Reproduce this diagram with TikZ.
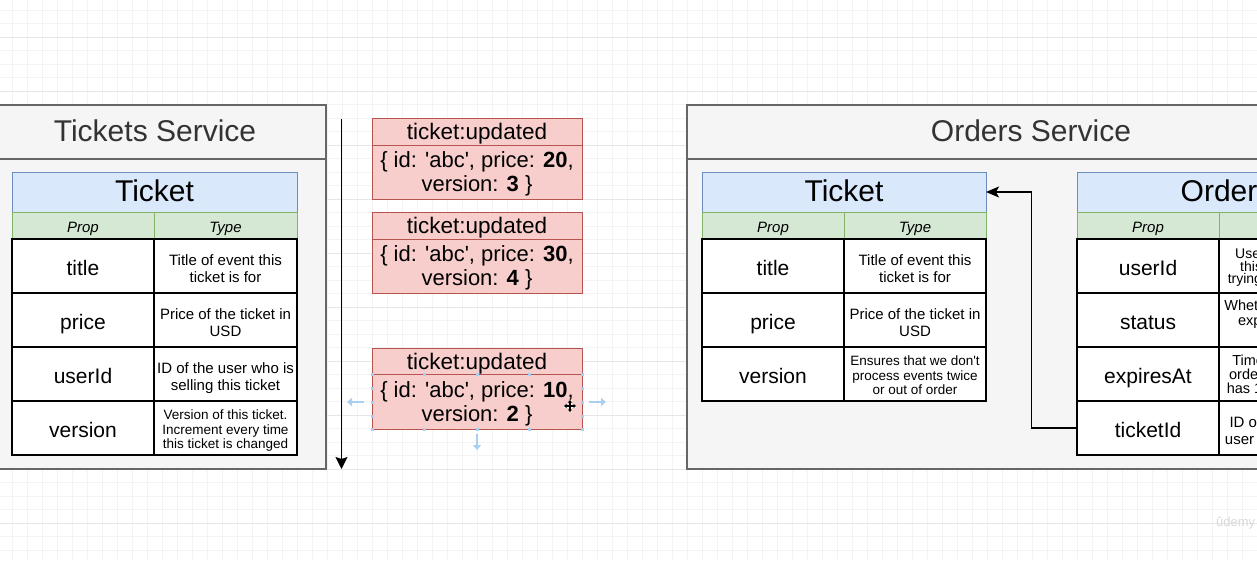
\documentclass[tikz,border=0pt]{standalone}
\usepackage{fontspec}
\setmainfont{Liberation Sans}
\usetikzlibrary{arrows.meta}
\definecolor{svcfill}{HTML}{F5F5F5}
\definecolor{svcline}{HTML}{666666}
\definecolor{hdrfill}{HTML}{DAE8FC}
\definecolor{hdrline}{HTML}{6C8EBF}
\definecolor{colfill}{HTML}{D5E8D4}
\definecolor{colline}{HTML}{82B366}
\definecolor{evfill}{HTML}{F8CECC}
\definecolor{evline}{HTML}{B85450}
\definecolor{titlecol}{HTML}{333333}
\definecolor{gridmin}{HTML}{F3F3F3}
\definecolor{gridmaj}{HTML}{E6E6E6}
\definecolor{selblue}{HTML}{A9CFF2}
\newcommand\fsz[2]{\fontsize{#1}{#2}\selectfont}
\newcommand\sq{\textquotesingle}
% multi-line text with a top strut (#1) and a bottom strut (#2)
\newcommand\tx[3]{\rule{0pt}{#1}#3\rule[-#2]{0pt}{#2}}
\newcommand\tyt[1]{\tx{19.5pt}{3.3pt}{#1}}
\newcommand\tys[1]{\tx{15pt}{3pt}{#1}}
\newcommand\evt[1]{\tx{20.3pt}{4.8pt}{#1}}
\tikzset{
  base/.style={inner sep=0pt, outer sep=0pt, anchor=north west, align=center},
  svcbox/.style={base, draw=svcline, fill=svcfill, line width=1.2pt},
  svctitle/.style={inner sep=0pt, text=titlecol, font=\fsz{30}{33}, text height=19.5pt, text depth=0pt},
  hdr/.style={base, draw=hdrline, fill=hdrfill, line width=1pt, minimum height=40, font=\fsz{30}{33}, text height=19.5pt, text depth=0pt},
  colh/.style={base, draw=colline, fill=colfill, line width=1pt, minimum height=27, font=\fsz{15}{17}\itshape, text height=14.4pt, text depth=0pt},
  cell/.style={base, draw=black, fill=white, line width=1.4pt, minimum height=54},
  propc/.style={cell, font=\fsz{21}{24}, text height=18.5pt, text depth=0pt},
  typec/.style={cell, font=\fsz{15}{17}},
  types/.style={cell, font=\fsz{13.5}{14.2}},
  evh/.style={base, draw=evline, fill=evfill, line width=1pt, minimum width=210, minimum height=27, font=\fsz{22.5}{24}, text height=15.5pt, text depth=0pt},
  evb/.style={base, draw=evline, fill=evfill, line width=1pt, minimum width=210, minimum height=54, font=\fsz{22}{24}},
  conn/.style={line width=1.5pt, -{Stealth[length=13pt,width=11pt,inset=3pt]}},
  handle/.style={fill=selblue, minimum size=3pt, inner sep=0pt},
  harrow/.style={selblue, line width=2pt, -{Triangle[length=5pt,width=8pt]}},
}
\begin{document}
\begin{tikzpicture}[x=1pt,y=-1pt]
\useasboundingbox (0,0) rectangle (1257,560);
\clip (0,0) rectangle (1257,560);
\fill[white] (0,0) rectangle (1257,560);
% background grid
\foreach \gx in {12.7,27.7,...,1257} \draw[gridmin, line width=0.8pt] (\gx,0) -- (\gx,560);
\foreach \gy in {-3.5,10,...,560} \draw[gridmin, line width=0.8pt] (0,\gy) -- (1257,\gy);
\foreach \gy in {37,91,...,560} \draw[gridmaj, line width=1pt] (0,\gy) -- (1257,\gy);

% ---------- Tickets Service ----------
\node[svcbox, minimum width=342, minimum height=364] (tsvc) at (-16,105) {};
\draw[svcline, line width=1.2pt] (-16,159) -- (326,159);
\node[svctitle] (tsvct) at (155,132) {Tickets Service};

\node[hdr, minimum width=285] (tH) at (12,172) {Ticket};
\node[colh, minimum width=142] (tCP) at (12,212) {Prop};
\node[colh, minimum width=143] (tCT) at (154,212) {Type};
\node[propc, minimum width=142] (tP1) at (12,239) {title};
\node[typec, minimum width=143] (tT1) at (154,239) {\tyt{Title of event this\\ticket is for}};
\node[propc, minimum width=142] (tP2) at (12,293) {price};
\node[typec, minimum width=143] (tT2) at (154,293) {\tyt{Price of the ticket in\\USD}};
\node[propc, minimum width=142] (tP3) at (12,347) {userId};
\node[typec, minimum width=143] (tT3) at (154,347) {\tyt{ID of the user who is\\selling this ticket}};
\node[propc, minimum width=142] (tP4) at (12,401) {version};
\node[types, minimum width=143] (tT4) at (154,401) {\tys{Version of this ticket.\\Increment every time\\this ticket is changed}};

% ---------- timeline ----------
\coordinate (tl0) at (341.5,119);
\coordinate (tl1) at (341.5,469);
\draw[line width=1.6pt, -{Stealth[length=12pt,width=12pt,inset=2pt]}] (tl0) -- (tl1);

% ---------- events ----------
\node[evh] (e1h) at (372,118) {ticket:updated};
\node[evb] (e1b) at (372,145) {\evt{\{ id: \sq abc\sq, price: \textbf{20},\\version: \textbf{3} \}}};
\node[evh] (e2h) at (372,212) {ticket:updated};
\node[evb] (e2b) at (372,239) {\evt{\{ id: \sq abc\sq, price: \textbf{30},\\version: \textbf{4} \}}};
\node[evh] (e3h) at (372,348) {ticket:updated};
\node[evb, minimum height=55] (e3b) at (372,374) {\evt{\{ id: \sq abc\sq, price: \textbf{10},\\version: \textbf{2} \}}};

% selection handles on the third event
\foreach \hx in {372,424.5,477,529.5,582} {
  \node[handle] at (\hx,374) {};
  \node[handle] at (\hx,429) {};
}
\foreach \hy in {388,402,416} {
  \node[handle] at (372,\hy) {};
  \node[handle] at (582,\hy) {};
}
\coordinate (hl0) at (364,402); \coordinate (hl1) at (347,402);
\coordinate (hr0) at (589,402); \coordinate (hr1) at (606,402);
\coordinate (hd0) at (477,434); \coordinate (hd1) at (477,450);
\draw[harrow] (hl0) -- (hl1);
\draw[harrow] (hr0) -- (hr1);
\draw[harrow] (hd0) -- (hd1);
% move cursor
\coordinate (cur) at (570,406);
\draw[white, line width=3pt] ([xshift=-6pt]cur) -- ([xshift=6pt]cur) ([yshift=-6pt]cur) -- ([yshift=6pt]cur);
\draw[black, line width=1.1pt, {Triangle[length=2.5pt,width=4pt]}-{Triangle[length=2.5pt,width=4pt]}] ([xshift=-6pt]cur) -- ([xshift=6pt]cur);
\draw[black, line width=1.1pt, {Triangle[length=2.5pt,width=4pt]}-{Triangle[length=2.5pt,width=4pt]}] ([yshift=-6pt]cur) -- ([yshift=6pt]cur);

% ---------- Orders Service ----------
\node[svcbox, minimum width=688, minimum height=364] (osvc) at (687,105) {};
\draw[svcline, line width=1.2pt] (687,159) -- (1375,159);
\node[svctitle] (osvct) at (1031,132) {Orders Service};

\node[hdr, minimum width=284] (oH) at (702,172) {Ticket};
\node[colh, minimum width=142] (oCP) at (702,212) {Prop};
\node[colh, minimum width=142] (oCT) at (844,212) {Type};
\node[propc, minimum width=142] (oP1) at (702,239) {title};
\node[typec, minimum width=142] (oT1) at (844,239) {\tyt{Title of event this\\ticket is for}};
\node[propc, minimum width=142] (oP2) at (702,293) {price};
\node[typec, minimum width=142] (oT2) at (844,293) {\tyt{Price of the ticket in\\USD}};
\node[propc, minimum width=142] (oP3) at (702,347) {version};
\node[types, minimum width=142] (oT3) at (844,347) {\tys{Ensures that we don\sq t\\process events twice\\or out of order}};

\node[hdr, minimum width=284] (rH) at (1077,172) {Order};
\node[colh, minimum width=142] (rCP) at (1077,212) {Prop};
\node[colh, minimum width=142] (rCT) at (1219,212) {Type};
\node[propc, minimum width=142] (rP1) at (1077,239) {userId};
\node[cell, font=\fsz{14}{12.5}, minimum width=142] (rT1) at (1219,239) {\tx{13.5pt}{3pt}{User who created\\this order and is\\trying to buy a ticket}};
\node[propc, minimum width=142] (rP2) at (1077,293) {status};
\node[cell, font=\fsz{14.5}{15}, minimum width=142] (rT2) at (1219,293) {\tx{14.5pt}{3.2pt}{Whether the order is\\expired, paid, or\\pending}};
\node[propc, minimum width=142] (rP3) at (1077,347) {expiresAt};
\node[cell, font=\fsz{14.5}{13.5}, minimum width=142] (rT3) at (1219,347) {\tx{14.5pt}{3.2pt}{Time at which this\\order expires (user\\has 15 mins to pay)}};
\node[propc, minimum width=142] (rP4) at (1077,401) {ticketId};
\node[typec, minimum width=142] (rT4) at (1219,401) {\tyt{ID of the ticket the\\user is trying to buy}};

\draw[conn] (rP4.west) -- ++(-45.5,0) |- (oH.east);

% watermark
\node[anchor=west, inner sep=0pt, text=black!15, font=\fsz{13}{14}] (wm) at (1216,523) {ûdemy};
\end{tikzpicture}
\end{document}
